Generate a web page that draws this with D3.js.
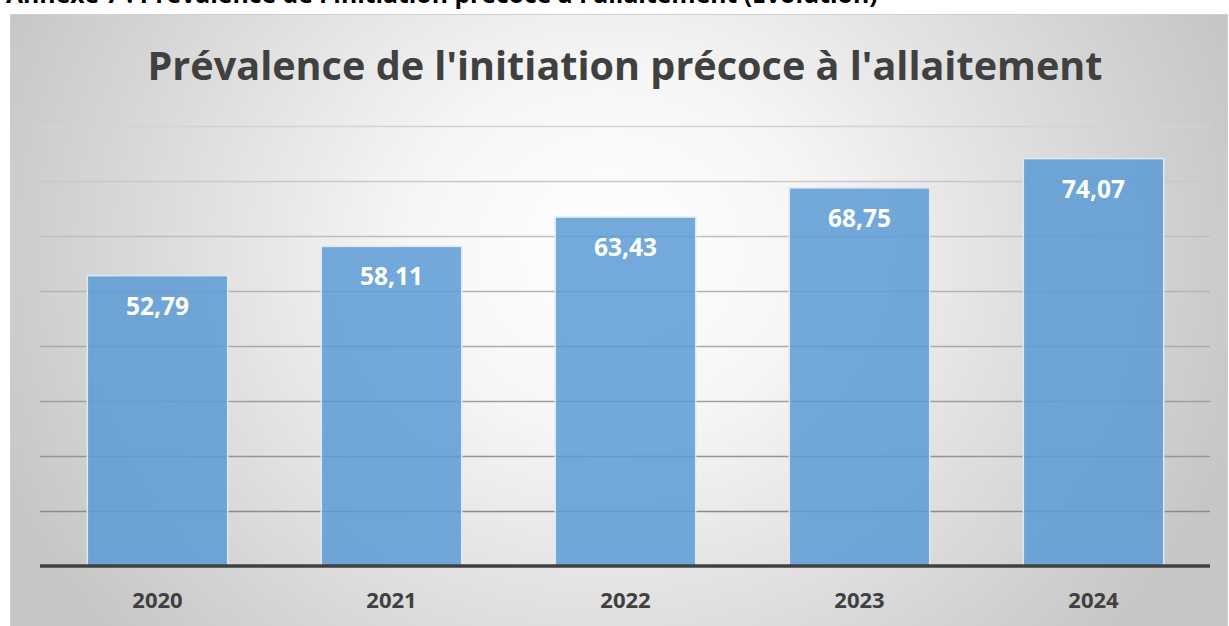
<!DOCTYPE html>
<html><head><meta charset="utf-8">
<script src="https://cdn.jsdelivr.net/npm/d3@7"></script>
<style>
html,body{margin:0;padding:0;background:#fff;overflow:hidden;}
svg{display:block;}
text{font-family:"Open Sans","Noto Sans",sans-serif;}
</style></head>
<body>
<svg id="c" width="1229" height="626"></svg>
<script>
const years = ["2020","2021","2022","2023","2024"];
const values = [52.79, 58.11, 63.43, 68.75, 74.07];
const valueLabels = ["52,79","58,11","63,43","68,75","74,07"];
const yTicks = [10,20,30,40,50,60,70,80];
const chartTitle = "Prévalence de l'initiation précoce à l'allaitement";
const pageHeading = "Annexe 7 : Prévalence de l'initiation précoce à l'allaitement (Evolution)";

const svg = d3.select("#c");
const defs = svg.append("defs");

const bg = defs.append("radialGradient").attr("id","bg")
  .attr("gradientUnits","userSpaceOnUse")
  .attr("cx",610).attr("cy",250).attr("r",660)
  .attr("gradientTransform","translate(610,250) scale(1,0.9) translate(-610,-250)");
bg.append("stop").attr("offset",0).attr("stop-color","#ffffff");
bg.append("stop").attr("offset",0.3).attr("stop-color","#f6f6f6");
bg.append("stop").attr("offset",1).attr("stop-color","#c6c6c6");

const gl = defs.append("linearGradient").attr("id","gl")
  .attr("gradientUnits","userSpaceOnUse")
  .attr("x1",0).attr("y1",120).attr("x2",0).attr("y2",515);
gl.append("stop").attr("offset",0).attr("stop-color","#d4d4d4");
gl.append("stop").attr("offset",1).attr("stop-color","#8a8a8a");

// page heading (cut off at top, as in the reference)
const head = svg.append("text").attr("x",6).attr("y",3)
  .attr("font-weight","bold").attr("fill","#000").attr("font-size",20)
  .text(pageHeading);
const hw = head.node().getComputedTextLength();
head.attr("font-size", 20*872/hw);

// chart frame
svg.append("rect").attr("x",10.5).attr("y",14.5).attr("width",1217).attr("height",620)
  .attr("fill","url(#bg)").attr("stroke","#cfcfcf").attr("stroke-width",1);

const x = d3.scaleBand().domain(years).range([40.5,1210.5]).paddingInner(0.4).paddingOuter(0.2);
const y = d3.scaleLinear().domain([0,80]).range([566,126]);

// gridlines
svg.append("g").selectAll("line").data(yTicks).join("line")
  .attr("x1",40).attr("x2",1210)
  .attr("y1",d=>Math.round(y(d))+0.5).attr("y2",d=>Math.round(y(d))+0.5+0.001)
  .attr("stroke","url(#gl)").attr("stroke-width",1.5);

// bars
svg.append("g").selectAll("rect").data(values).join("rect")
  .attr("x",(d,i)=>x(years[i]))
  .attr("y",d=>y(d))
  .attr("width",x.bandwidth())
  .attr("height",d=>y(0)-y(d))
  .attr("fill","#5B9BD5").attr("fill-opacity",0.85)
  .attr("stroke","#dce8f4").attr("stroke-width",1.5);

// value labels
svg.append("g").selectAll("text").data(values).join("text")
  .attr("x",(d,i)=>x(years[i])+x.bandwidth()/2)
  .attr("y",d=>y(d)+39)
  .attr("text-anchor","middle").attr("font-weight","bold")
  .attr("font-size",24.5).attr("fill","#ffffff")
  .text((d,i)=>valueLabels[i]);

// x axis
const xAxis = svg.append("g").attr("transform","translate(0,566)")
  .call(d3.axisBottom(x).tickSize(0).tickPadding(26));
xAxis.select(".domain").attr("d","M40,0H1210").attr("stroke","#404040").attr("stroke-width",3.5);
xAxis.selectAll("text").attr("font-family","'Open Sans','Noto Sans',sans-serif")
  .attr("font-size",22).attr("font-weight","bold").attr("fill","#404040");

// title
const t = svg.append("text").attr("x",625).attr("y",80)
  .attr("text-anchor","middle").attr("font-weight","bold").attr("fill","#404040")
  .attr("font-size",40).text(chartTitle);
const tw = t.node().getComputedTextLength();
t.attr("font-size", 40*955/tw);
</script>
</body></html>
